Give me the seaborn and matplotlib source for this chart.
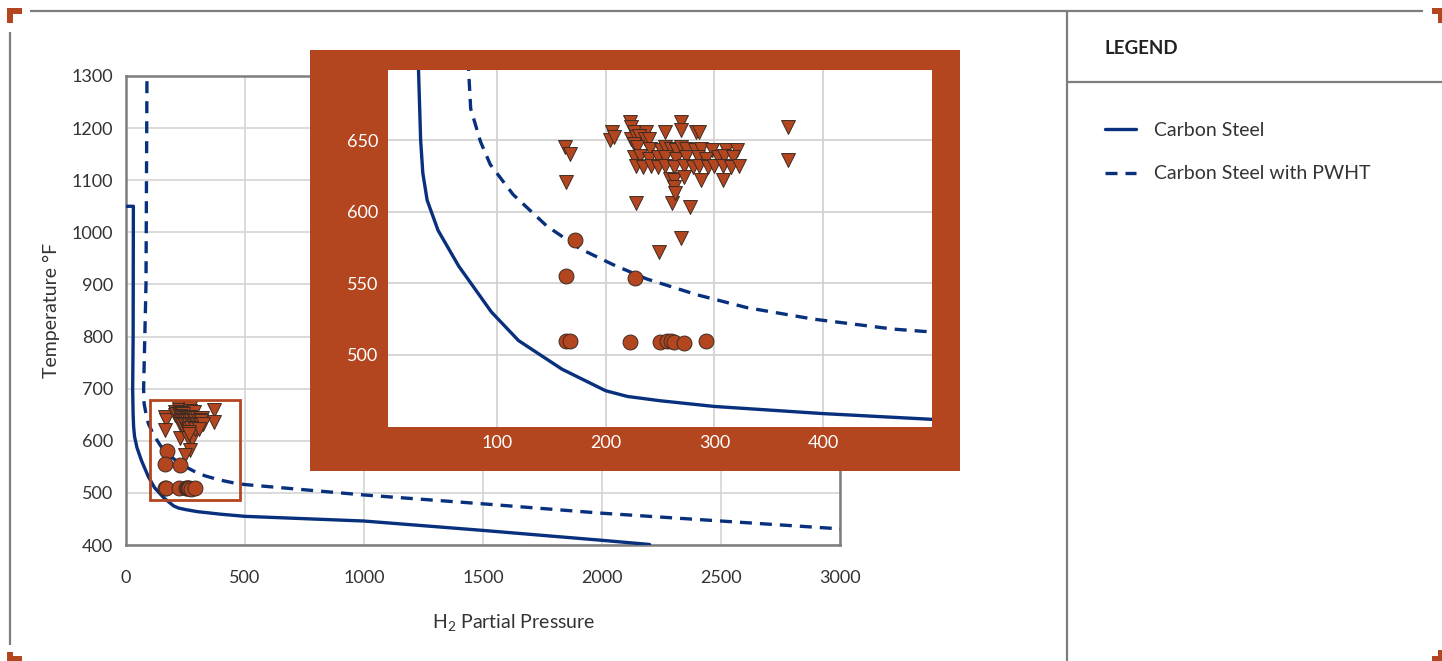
import matplotlib.pyplot as plt
import numpy as np
import pandas as pd
import seaborn as sns
from matplotlib.lines import Line2D
from matplotlib.patches import Rectangle

# Nelson-type curves, H2 partial pressure vs temperature (F)
cs_p = [0, 31, 30, 28, 30, 32, 36, 46, 65, 95, 120, 160, 200, 220, 250, 300, 400, 500, 1000, 1500, 2000, 2200]
cs_t = [1050, 1050, 800, 700, 650, 627, 608, 587, 562, 530, 510, 490, 475, 471, 468, 464, 459, 455, 446, 428, 409, 401]

pw_p = [88, 84, 74, 76, 85, 94, 115, 146, 177, 207, 238, 284, 330, 391, 465, 500, 1000, 1500, 2000, 2500, 3000]
pw_t = [1290, 900, 700, 672, 649, 633, 612, 590, 574, 563, 553, 542, 533, 525, 518, 516, 496, 479, 461, 446, 431]

# observed points (triangles / circles)
tri_p = [163, 167, 164, 206, 204, 208, 222, 223, 226, 237, 255, 269, 269, 283, 286, 368, 368,
         228, 261, 278, 269, 249,
         223, 228, 231, 236, 240, 226, 229,
         241, 251, 255, 260, 265, 269, 274, 282, 288, 298, 311, 321,
         226, 232, 240, 248, 255, 265, 274, 285, 292, 303, 309, 317,
         228, 234, 242, 248, 255, 263, 272, 280, 286, 294, 300, 308, 315, 323,
         259, 263, 272, 288, 308,
         263, 264]
tri_t = [645, 640, 621, 656, 650, 652, 663, 659, 656, 656, 656, 663, 657, 656, 656, 659, 636,
         606, 606, 603, 582, 572,
         651, 652, 653, 651, 651, 647, 645,
         644, 643, 645, 644, 643, 645, 644, 643, 644, 643, 643, 643,
         638, 639, 637, 638, 638, 637, 638, 638, 637, 638, 639, 638,
         632, 631, 632, 631, 632, 631, 632, 631, 632, 631, 632, 632, 631, 632,
         623, 622, 624, 622, 622,
         617, 613]

circ_p = [172, 164, 227, 164, 167, 222, 250, 256, 260, 263, 272, 292]
circ_t = [580, 555, 554, 510, 510, 509, 509, 510, 510, 509, 508, 510]

series_names = ["Carbon Steel", "Carbon Steel with PWHT"]

navy = "#08307D"
rust = "#B3451F"
edge = "#3b2b22"
gray = "#7d7d7d"
dash = (3.6, 2.4)

sns.set_theme(style="white")
plt.rcParams["font.family"] = ["Lato", "DejaVu Sans"]
plt.rcParams["mathtext.fontset"] = "custom"
plt.rcParams["mathtext.rm"] = "Lato"
plt.rcParams["mathtext.it"] = "Lato:italic"

W, H = 1442, 661


def fx(x):
    return x / W


def fy(y):
    return 1 - y / H


curves = pd.concat([
    pd.DataFrame({"p": cs_p, "t": cs_t, "series": series_names[0]}),
    pd.DataFrame({"p": pw_p, "t": pw_t, "series": series_names[1]}),
], ignore_index=True)


def draw(ax, lw):
    sns.lineplot(data=curves, x="p", y="t", style="series",
                 dashes={series_names[0]: "", series_names[1]: dash},
                 color=navy, linewidth=lw, sort=False, estimator=None,
                 legend=False, ax=ax, zorder=3)
    sns.scatterplot(x=tri_p, y=tri_t, marker="v", s=100, color=rust,
                    edgecolor=edge, linewidth=0.7, ax=ax, zorder=4)
    sns.scatterplot(x=circ_p, y=circ_t, marker="o", s=115, color=rust,
                    edgecolor=edge, linewidth=0.7, ax=ax, zorder=4)


fig = plt.figure(figsize=(W / 100, H / 100), dpi=100)

# main chart
ax = fig.add_axes([fx(126), fy(545), (840 - 126) / W, (545 - 76) / H])
draw(ax, 2.4)
ax.set_xlim(0, 3000)
ax.set_ylim(400, 1300)
ax.set_xticks(range(0, 3001, 500))
ax.set_yticks(range(400, 1301, 100))
ax.grid(True, color="#d4d4d4", linewidth=1.2)
ax.set_axisbelow(True)
for s in ax.spines.values():
    s.set_color(gray)
    s.set_linewidth(1.8)
ax.tick_params(axis="both", length=0, labelsize=13, labelcolor="#333333")
ax.tick_params(axis="x", pad=18)
ax.tick_params(axis="y", pad=9)
ax.set_xlabel(r"H$_2$ Partial Pressure", fontsize=14, color="#333333")
ax.set_ylabel("Temperature °F", fontsize=14, color="#333333")
ax.xaxis.set_label_coords(0.543, -0.142)
ax.yaxis.set_label_coords(-0.092, 0.5)
ax.add_patch(Rectangle((100, 487), 380, 191, fill=False, edgecolor=rust,
                       linewidth=2, zorder=5))

# zoomed inset
panel = fig.add_axes([fx(310), fy(471), (960 - 310) / W, (471 - 50) / H])
panel.set_facecolor(rust)
panel.set_xticks([])
panel.set_yticks([])
for s in panel.spines.values():
    s.set_visible(False)

ins = fig.add_axes([fx(388), fy(426.5), (932 - 388) / W, (426.5 - 70) / H])
draw(ins, 2.4)
ins.set_xlim(0, 500)
ins.set_ylim(450, 699)
ins.set_xticks([100, 200, 300, 400])
ins.set_yticks([500, 550, 600, 650])
ins.grid(True, color="#d0d0d0", linewidth=1.2)
ins.set_axisbelow(True)
for s in ins.spines.values():
    s.set_visible(False)
ins.tick_params(axis="both", length=0, labelsize=13, labelcolor="white")
ins.tick_params(axis="x", pad=6)
ins.tick_params(axis="y", pad=7)
ins.set_xlabel("")
ins.set_ylabel("")


# page frame
def fline(xs, ys, color, lw):
    fig.add_artist(Line2D([fx(x) for x in xs], [fy(y) for y in ys],
                          transform=fig.transFigure, color=color, linewidth=lw,
                          solid_capstyle="butt", solid_joinstyle="miter"))


fline([30, 1423], [11, 11], gray, 1.6)
fline([9.5, 9.5], [32, 645], gray, 1.6)
fline([1067, 1067], [11, 661], gray, 1.6)
fline([1067, 1442], [82, 82], gray, 1.6)
fline([22, 10, 10], [11, 11, 23], rust, 4.3)
fline([1432, 1441, 1441], [11, 11, 23], rust, 4.3)
fline([10, 10, 22], [652, 659, 659], rust, 4.3)
fline([1441, 1441, 1432], [650, 659, 659], rust, 4.3)

# legend panel
fig.text(fx(1105), fy(48), "LEGEND", fontsize=13.5, fontweight="bold",
         color="#222222", ha="left", va="center")
handles = [Line2D([], [], color=navy, linewidth=2.4),
           Line2D([], [], color=navy, linewidth=2.4, dashes=dash)]
fig.legend(handles, series_names, loc="upper left",
           bbox_to_anchor=(fx(1105), fy(122)), frameon=False, fontsize=14,
           handlelength=1.6, handletextpad=0.9, labelspacing=1.36,
           borderpad=0, borderaxespad=0, labelcolor="#333333")

fig.savefig("out.png", dpi=100)
